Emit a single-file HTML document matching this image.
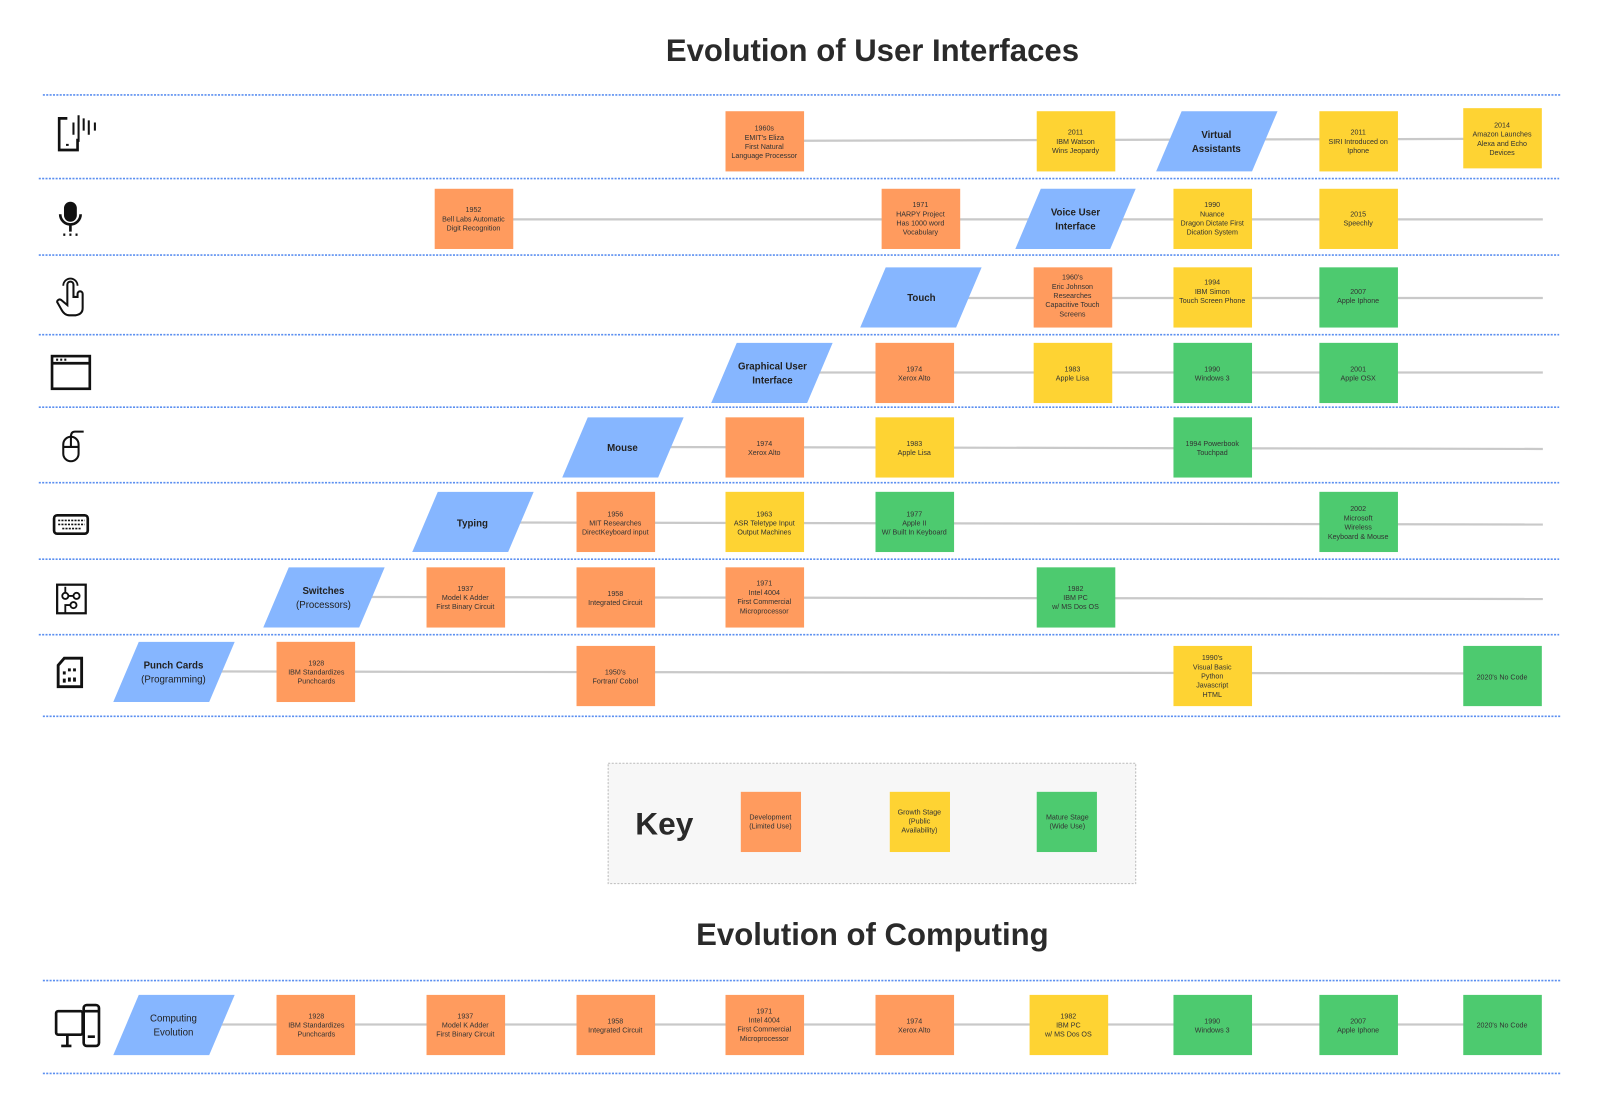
<!DOCTYPE html>
<html><head><meta charset="utf-8"><style>
body{margin:0;background:#fff}
svg{display:block;font-family:"Liberation Sans",sans-serif}
.t{font-size:7px;fill:#333;text-anchor:middle}
.p{font-size:9.5px;fill:#222;text-anchor:middle;font-weight:bold}
.o{fill:#FF9B5E}.y{fill:#FED333}.g{fill:#4DCA6F}.b{fill:#86B6FF}
.dl{stroke:#5b8ff0;stroke-width:1.6;stroke-dasharray:2 1.3}
.cl{stroke:#c9c9c9;stroke-width:2.2}
.ic{fill:none;stroke:#111;stroke-width:2.6}
</style></head><body>
<svg width="1600" height="1112" viewBox="0 0 1600 1112">
<g transform="scale(1.0204)">
<text x="855" y="60" text-anchor="middle" font-size="30.5" font-weight="bold" fill="#2a2a2a">Evolution of User Interfaces</text>
<text x="855" y="926" text-anchor="middle" font-size="30.5" font-weight="bold" fill="#2a2a2a">Evolution of Computing</text>
<g class="dl">
<line x1="42" y1="93" x2="1530" y2="93"/><line x1="38" y1="175" x2="1528" y2="175"/><line x1="38" y1="250" x2="1528" y2="250"/><line x1="38" y1="328" x2="1528" y2="328"/><line x1="38" y1="399" x2="1528" y2="399"/><line x1="38" y1="473" x2="1528" y2="473"/><line x1="38" y1="548" x2="1528" y2="548"/><line x1="38" y1="622" x2="1528" y2="622"/><line x1="42" y1="702" x2="1530" y2="702"/><line x1="42" y1="961" x2="1530" y2="961"/><line x1="42" y1="1052" x2="1530" y2="1052"/>
</g>
<g class="cl">
<line x1="750" y1="138" x2="1472" y2="136"/>
<line x1="464" y1="215" x2="1512" y2="215"/>
<line x1="900" y1="292" x2="1512" y2="292"/>
<line x1="756" y1="365" x2="1512" y2="365"/>
<line x1="610" y1="438" x2="1512" y2="440"/>
<line x1="462" y1="512" x2="1512" y2="514"/>
<line x1="316" y1="585" x2="1512" y2="587"/>
<line x1="170" y1="658" x2="1472" y2="660"/>
<line x1="170" y1="1004" x2="1472" y2="1004"/>
</g>
<rect class="o" x="711" y="109" width="77" height="59"/><text class="t"><tspan x="749" y="128">1960s</tspan><tspan x="749" y="137">EMIT's Eliza</tspan><tspan x="749" y="146">First Natural</tspan><tspan x="749" y="155">Language Processor</tspan></text>
<rect class="y" x="1016" y="109" width="77" height="59"/><text class="t"><tspan x="1054" y="132">2011</tspan><tspan x="1054" y="141">IBM Watson</tspan><tspan x="1054" y="150">Wins Jeopardy</tspan></text>
<polygon class="b" points="1158,109 1252,109 1227,168 1133,168"/><text class="p"><tspan x="1192" y="135">Virtual</tspan><tspan x="1192" y="149">Assistants</tspan></text>
<rect class="y" x="1293" y="109" width="77" height="59"/><text class="t"><tspan x="1331" y="132">2011</tspan><tspan x="1331" y="141">SIRI Introduced on</tspan><tspan x="1331" y="150">Iphone</tspan></text>
<rect class="y" x="1434" y="106" width="77" height="59"/><text class="t"><tspan x="1472" y="125">2014</tspan><tspan x="1472" y="134">Amazon Launches</tspan><tspan x="1472" y="143">Alexa and Echo</tspan><tspan x="1472" y="152">Devices</tspan></text>
<rect class="o" x="426" y="185" width="77" height="59"/><text class="t"><tspan x="464" y="208">1952</tspan><tspan x="464" y="217">Bell Labs Automatic</tspan><tspan x="464" y="226">Digit Recognition</tspan></text>
<rect class="o" x="864" y="185" width="77" height="59"/><text class="t"><tspan x="902" y="203">1971</tspan><tspan x="902" y="212">HARPY Project</tspan><tspan x="902" y="221">Has 1000 word</tspan><tspan x="902" y="230">Vocabulary</tspan></text>
<polygon class="b" points="1020,185 1113,185 1088,244 995,244"/><text class="p"><tspan x="1054" y="211">Voice User</tspan><tspan x="1054" y="225">Interface</tspan></text>
<rect class="y" x="1150" y="185" width="77" height="59"/><text class="t"><tspan x="1188" y="203">1990</tspan><tspan x="1188" y="212">Nuance</tspan><tspan x="1188" y="221">Dragon Dictate First</tspan><tspan x="1188" y="230">Dication System</tspan></text>
<rect class="y" x="1293" y="185" width="77" height="59"/><text class="t"><tspan x="1331" y="212">2015</tspan><tspan x="1331" y="221">Speechly</tspan></text>
<polygon class="b" points="868,262 962,262 937,321 843,321"/><text class="p" x="903" y="295">Touch</text>
<rect class="o" x="1013" y="262" width="77" height="59"/><text class="t"><tspan x="1051" y="274">1960's</tspan><tspan x="1051" y="283">Eric Johnson</tspan><tspan x="1051" y="292">Researches</tspan><tspan x="1051" y="301">Capacitive Touch</tspan><tspan x="1051" y="310">Screens</tspan></text>
<rect class="y" x="1150" y="262" width="77" height="59"/><text class="t"><tspan x="1188" y="279">1994</tspan><tspan x="1188" y="288">IBM Simon</tspan><tspan x="1188" y="297">Touch Screen Phone</tspan></text>
<rect class="g" x="1293" y="262" width="77" height="59"/><text class="t"><tspan x="1331" y="288">2007</tspan><tspan x="1331" y="297">Apple Iphone</tspan></text>
<polygon class="b" points="722,336 816,336 791,395 697,395"/><text class="p"><tspan x="757" y="362">Graphical User</tspan><tspan x="757" y="376">Interface</tspan></text>
<rect class="o" x="858" y="336" width="77" height="59"/><text class="t"><tspan x="896" y="364">1974</tspan><tspan x="896" y="373">Xerox Alto</tspan></text>
<rect class="y" x="1013" y="336" width="77" height="59"/><text class="t"><tspan x="1051" y="364">1983</tspan><tspan x="1051" y="373">Apple Lisa</tspan></text>
<rect class="g" x="1150" y="336" width="77" height="59"/><text class="t"><tspan x="1188" y="364">1990</tspan><tspan x="1188" y="373">Windows 3</tspan></text>
<rect class="g" x="1293" y="336" width="77" height="59"/><text class="t"><tspan x="1331" y="364">2001</tspan><tspan x="1331" y="373">Apple OSX</tspan></text>
<polygon class="b" points="576,409 670,409 645,468 551,468"/><text class="p" x="610" y="442">Mouse</text>
<rect class="o" x="711" y="409" width="77" height="59"/><text class="t"><tspan x="749" y="437">1974</tspan><tspan x="749" y="446">Xerox Alto</tspan></text>
<rect class="y" x="858" y="409" width="77" height="59"/><text class="t"><tspan x="896" y="437">1983</tspan><tspan x="896" y="446">Apple  Lisa</tspan></text>
<rect class="g" x="1150" y="409" width="77" height="59"/><text class="t"><tspan x="1188" y="437">1994 Powerbook</tspan><tspan x="1188" y="446">Touchpad</tspan></text>
<polygon class="b" points="429,482 523,482 498,541 404,541"/><text class="p" x="463" y="516">Typing</text>
<rect class="o" x="565" y="482" width="77" height="59"/><text class="t"><tspan x="603" y="506">1956</tspan><tspan x="603" y="515">MIT Researches</tspan><tspan x="603" y="524">DirectKeyboard input</tspan></text>
<rect class="y" x="711" y="482" width="77" height="59"/><text class="t"><tspan x="749" y="506">1963</tspan><tspan x="749" y="515">ASR Teletype Input</tspan><tspan x="749" y="524">Output Machines</tspan></text>
<rect class="g" x="858" y="482" width="77" height="59"/><text class="t"><tspan x="896" y="506">1977</tspan><tspan x="896" y="515">Apple II</tspan><tspan x="896" y="524">W/ Built In Keyboard</tspan></text>
<rect class="g" x="1293" y="482" width="77" height="59"/><text class="t"><tspan x="1331" y="501">2002</tspan><tspan x="1331" y="510">Microsoft</tspan><tspan x="1331" y="519">Wireless</tspan><tspan x="1331" y="528">Keyboard &amp; Mouse</tspan></text>
<polygon class="b" points="283,556 377,556 352,615 258,615"/><text class="p"><tspan x="317" y="582">Switches</tspan><tspan x="317" y="596" font-weight="normal">(Processors)</tspan></text>
<rect class="o" x="418" y="556" width="77" height="59"/><text class="t"><tspan x="456" y="579">1937</tspan><tspan x="456" y="588">Model K Adder</tspan><tspan x="456" y="597">First Binary Circuit</tspan></text>
<rect class="o" x="565" y="556" width="77" height="59"/><text class="t"><tspan x="603" y="584">1958</tspan><tspan x="603" y="593">Integrated Circuit</tspan></text>
<rect class="o" x="711" y="556" width="77" height="59"/><text class="t"><tspan x="749" y="574">1971</tspan><tspan x="749" y="583">Intel 4004</tspan><tspan x="749" y="592">First Commercial</tspan><tspan x="749" y="601">Microprocessor</tspan></text>
<rect class="g" x="1016" y="556" width="77" height="59"/><text class="t"><tspan x="1054" y="579">1982</tspan><tspan x="1054" y="588">IBM PC</tspan><tspan x="1054" y="597">w/  MS Dos OS</tspan></text>
<polygon class="b" points="136,629 230,629 205,688 111,688"/><text class="p"><tspan x="170" y="655">Punch Cards</tspan><tspan x="170" y="669" font-weight="normal">(Programming)</tspan></text>
<rect class="o" x="271" y="629" width="77" height="59"/><text class="t"><tspan x="310" y="652">1928</tspan><tspan x="310" y="661">IBM Standardizes</tspan><tspan x="310" y="670">Punchcards</tspan></text>
<rect class="o" x="565" y="633" width="77" height="59"/><text class="t"><tspan x="603" y="661">1950's</tspan><tspan x="603" y="670">Fortran/ Cobol</tspan></text>
<rect class="y" x="1150" y="633" width="77" height="59"/><text class="t"><tspan x="1188" y="647">1990's</tspan><tspan x="1188" y="656">Visual Basic</tspan><tspan x="1188" y="665">Python</tspan><tspan x="1188" y="674">Javascript</tspan><tspan x="1188" y="683">HTML</tspan></text>
<rect class="g" x="1434" y="633" width="77" height="59"/><text class="t" x="1472" y="666">2020's No Code</text>
<rect x="596" y="748" width="517" height="118" fill="#f7f7f7" stroke="#bbb" stroke-width="1" stroke-dasharray="2 1.5"/>
<text x="651" y="818" text-anchor="middle" font-size="31" font-weight="bold" fill="#2a2a2a">Key</text>
<rect class="o" x="726" y="776" width="59" height="59"/><text class="t"><tspan x="755" y="803">Development</tspan><tspan x="755" y="812">(Limited Use)</tspan></text>
<rect class="y" x="872" y="776" width="59" height="59"/><text class="t"><tspan x="901" y="798">Growth Stage</tspan><tspan x="901" y="807">(Public</tspan><tspan x="901" y="816">Availability)</tspan></text>
<rect class="g" x="1016" y="776" width="59" height="59"/><text class="t"><tspan x="1046" y="803">Mature Stage</tspan><tspan x="1046" y="812">(Wide Use)</tspan></text>
<polygon class="b" points="136,975 230,975 205,1034 111,1034"/><text class="p"><tspan x="170" y="1001" font-weight="normal">Computing</tspan><tspan x="170" y="1015" font-weight="normal">Evolution</tspan></text>
<rect class="o" x="271" y="975" width="77" height="59"/><text class="t"><tspan x="310" y="998">1928</tspan><tspan x="310" y="1007">IBM Standardizes</tspan><tspan x="310" y="1016">Punchcards</tspan></text>
<rect class="o" x="418" y="975" width="77" height="59"/><text class="t"><tspan x="456" y="998">1937</tspan><tspan x="456" y="1007">Model K Adder</tspan><tspan x="456" y="1016">First Binary Circuit</tspan></text>
<rect class="o" x="565" y="975" width="77" height="59"/><text class="t"><tspan x="603" y="1003">1958</tspan><tspan x="603" y="1012">Integrated Circuit</tspan></text>
<rect class="o" x="711" y="975" width="77" height="59"/><text class="t"><tspan x="749" y="993">1971</tspan><tspan x="749" y="1002">Intel 4004</tspan><tspan x="749" y="1011">First Commercial</tspan><tspan x="749" y="1020">Microprocessor</tspan></text>
<rect class="o" x="858" y="975" width="77" height="59"/><text class="t"><tspan x="896" y="1003">1974</tspan><tspan x="896" y="1012">Xerox Alto</tspan></text>
<rect class="y" x="1009" y="975" width="77" height="59"/><text class="t"><tspan x="1047" y="998">1982</tspan><tspan x="1047" y="1007">IBM PC</tspan><tspan x="1047" y="1016">w/  MS Dos OS</tspan></text>
<rect class="g" x="1150" y="975" width="77" height="59"/><text class="t"><tspan x="1188" y="1003">1990</tspan><tspan x="1188" y="1012">Windows 3</tspan></text>
<rect class="g" x="1293" y="975" width="77" height="59"/><text class="t"><tspan x="1331" y="1003">2007</tspan><tspan x="1331" y="1012">Apple Iphone</tspan></text>
<rect class="g" x="1434" y="975" width="77" height="59"/><text class="t" x="1472" y="1007">2020's No Code</text>
<g class="ic">
<path d="M66,116 H58 V147 H76 V136"/><path d="M66,141 v2"/><path d="M72,120 v12 M77,113 v26 M82,116 v12 M87,118 v14 M93,120 v8" stroke-width="2"/>
<rect x="64" y="199" width="10" height="17" rx="5" fill="#111"/><path d="M59,210 a10,10 0 0 0 20,0 M69,220 v7"/><path d="M62,230 h2 M68,230 h2 M74,230 h2" stroke-width="2.4"/>
<path d="M66,299 v-20 a3,3 0 0 1 6,0 v12 l4,0 v-3 a2.5,2.5 0 0 1 5,0 v6 a3,3 0 0 1 0,0 v8 q0,6 -7,7 h-6 q-5,0 -8,-6 l-4,-7 a2.5,2.5 0 0 1 4,-2 z" stroke-width="2"/><path d="M62,280 a7,7 0 0 1 14,0" stroke-width="1.8"/>
<rect x="51" y="349" width="37" height="32"/><path d="M51,356 H88"/><path d="M55,352.5 h2 M59,352.5 h2 M63,352.5 h2" stroke-width="2"/>
<rect x="62" y="428" width="15" height="24" rx="7.5" stroke-width="2"/><path d="M62,438 H77 M69.5,428 V438 M69.5,428 q0,-5 4,-5 H82" stroke-width="2"/>
<rect x="53" y="505" width="33" height="18" rx="3"/><path d="M57,510 h26 M57,514 h26 M61,518 h18" stroke-width="1.6" stroke-dasharray="2 1.2"/>
<rect x="56" y="573" width="28" height="28" stroke-width="2.2"/><circle cx="64" cy="584" r="3" stroke-width="1.8"/><circle cx="75" cy="584" r="3" stroke-width="1.8"/><circle cx="72" cy="593" r="3" stroke-width="1.8"/><path d="M64,581 v-6 M67,584 h5 M69,593 h-5 v8" stroke-width="1.8"/>
<path d="M63,645 H80 V673 H57 V652 Z" stroke-width="2.8"/><path d="M63,658 v3 M68,655 v3 M73,655 v3 M63,665 v4 M68,664 v4 M73,664 v4" stroke-width="2.8"/>
<rect x="55" y="991" width="26" height="23" rx="2"/><path d="M66,1014 v11 M60,1025 h10"/><rect x="82" y="985" width="15" height="40" rx="3" fill="#fff"/><path d="M82,991 h15 M86,1016 h7"/>
</g>
</g>
</svg>
</body></html>
